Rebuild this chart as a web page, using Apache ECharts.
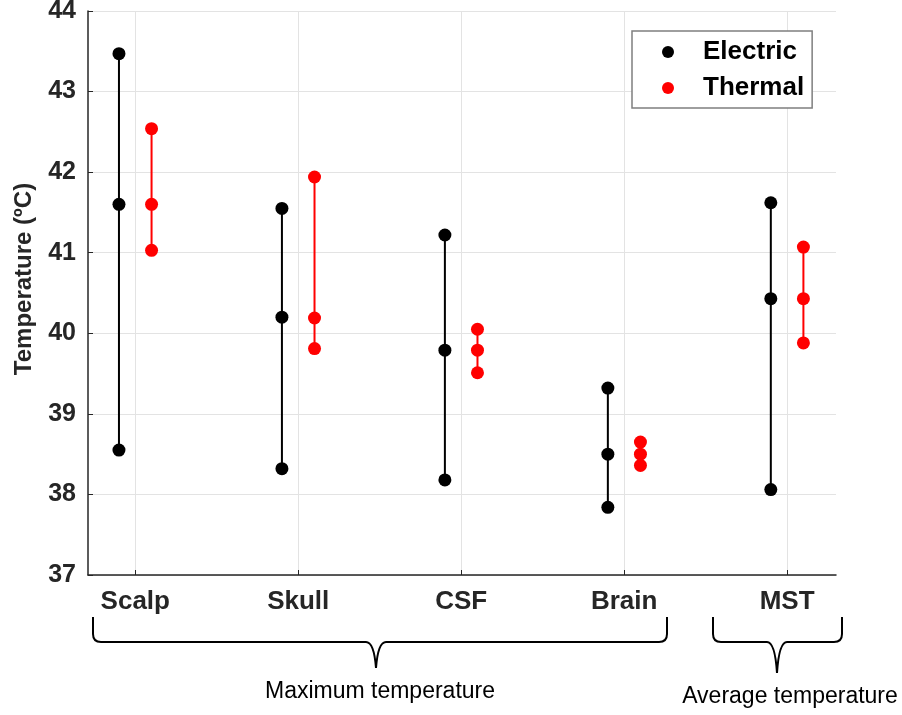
<!DOCTYPE html>
<html>
<head>
<meta charset="utf-8">
<script src="https://cdn.jsdelivr.net/npm/echarts@6/dist/echarts.min.js"></script>
<style>html,body{margin:0;padding:0;background:#fff;}#chart{width:902px;height:715px;}</style>
</head>
<body>
<div id="chart"></div>
<script>
const categories = ['Scalp', 'Skull', 'CSF', 'Brain', 'MST'];
const electricHigh = [43.47, 41.55, 41.22, 39.32, 41.62];
const electricMid  = [41.60, 40.20, 39.79, 38.50, 40.43];
const electricLow  = [38.55, 38.32, 38.18, 37.84, 38.06];
const thermalHigh  = [42.54, 41.94, 40.05, 38.65, 41.07];
const thermalMid   = [41.60, 40.19, 39.79, 38.50, 40.43];
const thermalLow   = [41.03, 39.81, 39.51, 38.36, 39.88];
const yTicks = [37, 38, 39, 40, 41, 42, 43, 44];
const groupLabels = ['Maximum temperature', 'Average temperature'];

const FONT = "'Liberation Sans', Arial, Helvetica, sans-serif";
const OFFSET = 0.1;
const positions = categories.map((c, i) => i + 1);

function makeSeries(name, color, low, mid, high, dx) {
  return categories.map((c, i) => ({
    name: name,
    type: 'line',
    symbol: 'circle',
    symbolSize: 13,
    showSymbol: true,
    color: color,
    itemStyle: { color: color },
    lineStyle: { color: color, width: 2 },
    emphasis: { disabled: true },
    data: [
      [positions[i] + dx, low[i]],
      [positions[i] + dx, mid[i]],
      [positions[i] + dx, high[i]]
    ],
    z: 3
  }));
}

const series = [].concat(
  makeSeries('Electric', '#000000', electricLow, electricMid, electricHigh, -OFFSET),
  makeSeries('Thermal', '#ff0000', thermalLow, thermalMid, thermalHigh, OFFSET)
);

// brace annotation: left x, right x, top y, bar y, tip x, tip y
function brace(x0, x1, yTop, yBar, xt, yt) {
  const st = { stroke: '#000', lineWidth: 2, fill: null };
  const r = 8;
  return [
    { type: 'line', shape: { x1: x0, y1: yTop, x2: x0, y2: yBar - r }, style: st },
    { type: 'bezierCurve', shape: { x1: x0, y1: yBar - r, cpx1: x0, cpy1: yBar, x2: x0 + r, y2: yBar }, style: st },
    { type: 'line', shape: { x1: x0 + r, y1: yBar, x2: xt - 10, y2: yBar }, style: st },
    { type: 'bezierCurve', shape: { x1: xt - 10, y1: yBar, cpx1: xt - 2, cpy1: yBar, x2: xt, y2: yt }, style: st },
    { type: 'bezierCurve', shape: { x1: xt, y1: yt, cpx1: xt + 2, cpy1: yBar, x2: xt + 10, y2: yBar }, style: st },
    { type: 'line', shape: { x1: xt + 10, y1: yBar, x2: x1 - r, y2: yBar }, style: st },
    { type: 'bezierCurve', shape: { x1: x1 - r, y1: yBar, cpx1: x1, cpy1: yBar, x2: x1, y2: yBar - r }, style: st },
    { type: 'line', shape: { x1: x1, y1: yBar - r, x2: x1, y2: yTop }, style: st }
  ];
}

const chart = echarts.init(document.getElementById('chart'), null, { renderer: 'canvas' });
chart.setOption({
  animation: false,
  backgroundColor: '#ffffff',
  grid: { left: 88, top: 11, right: 66, bottom: 140, containLabel: false, outerBoundsMode: 'none' },
  legend: {
    data: ['Electric', 'Thermal'],
    orient: 'vertical',
    left: 632,
    top: 31,
    icon: 'circle',
    itemWidth: 12,
    itemHeight: 12,
    itemGap: 6,
    padding: [6, 8, 5, 30],
    backgroundColor: '#ffffff',
    borderColor: '#7f7f7f',
    borderWidth: 1.5,
    textStyle: {
      fontFamily: FONT,
      fontSize: 26,
      fontWeight: 'bold',
      color: '#000000',
      lineHeight: 30,
      padding: [0, 0, 0, 24]
    }
  },
  xAxis: {
    type: 'value',
    min: 0.71,
    max: 5.3,
    axisLine: { show: true, lineStyle: { color: '#262626', width: 1.5 } },
    axisTick: { show: true, inside: true, length: 5, customValues: positions, lineStyle: { color: '#262626', width: 1 } },
    axisLabel: {
      customValues: positions,
      formatter: v => categories[Math.round(v) - 1] || '',
      fontFamily: FONT,
      fontSize: 26,
      fontWeight: 'bold',
      color: '#262626',
      margin: 14
    },
    splitLine: { show: true, lineStyle: { color: '#e3e3e3', width: 1 } }
  },
  yAxis: {
    type: 'value',
    min: yTicks[0],
    max: yTicks[yTicks.length - 1],
    interval: 1,
    name: 'Temperature (ºC)',
    nameLocation: 'middle',
    nameRotate: 90,
    nameGap: 52,
    nameTextStyle: {
      fontFamily: FONT,
      fontSize: 24,
      fontWeight: 'bold',
      color: '#262626',
      padding: [0, 0, 0, 28]
    },
    axisLine: { show: true, lineStyle: { color: '#262626', width: 1.5 } },
    axisTick: { show: true, inside: true, length: 5, lineStyle: { color: '#262626', width: 1 } },
    axisLabel: {
      fontFamily: FONT,
      fontSize: 25,
      fontWeight: 'bold',
      color: '#262626',
      margin: 12
    },
    splitLine: { show: true, lineStyle: { color: '#e3e3e3', width: 1 } }
  },
  graphic: [].concat(
    brace(93, 667, 617, 642, 376, 668),
    brace(713, 842, 617, 642, 777, 673),
    [
      {
        type: 'text',
        x: 380, y: 692,
        style: { text: groupLabels[0], fontFamily: FONT, fontSize: 23, fill: '#000', align: 'center', verticalAlign: 'middle' }
      },
      {
        type: 'text',
        x: 790, y: 697,
        style: { text: groupLabels[1], fontFamily: FONT, fontSize: 23, fill: '#000', align: 'center', verticalAlign: 'middle' }
      }
    ]
  ),
  series: series
});
</script>
</body>
</html>
